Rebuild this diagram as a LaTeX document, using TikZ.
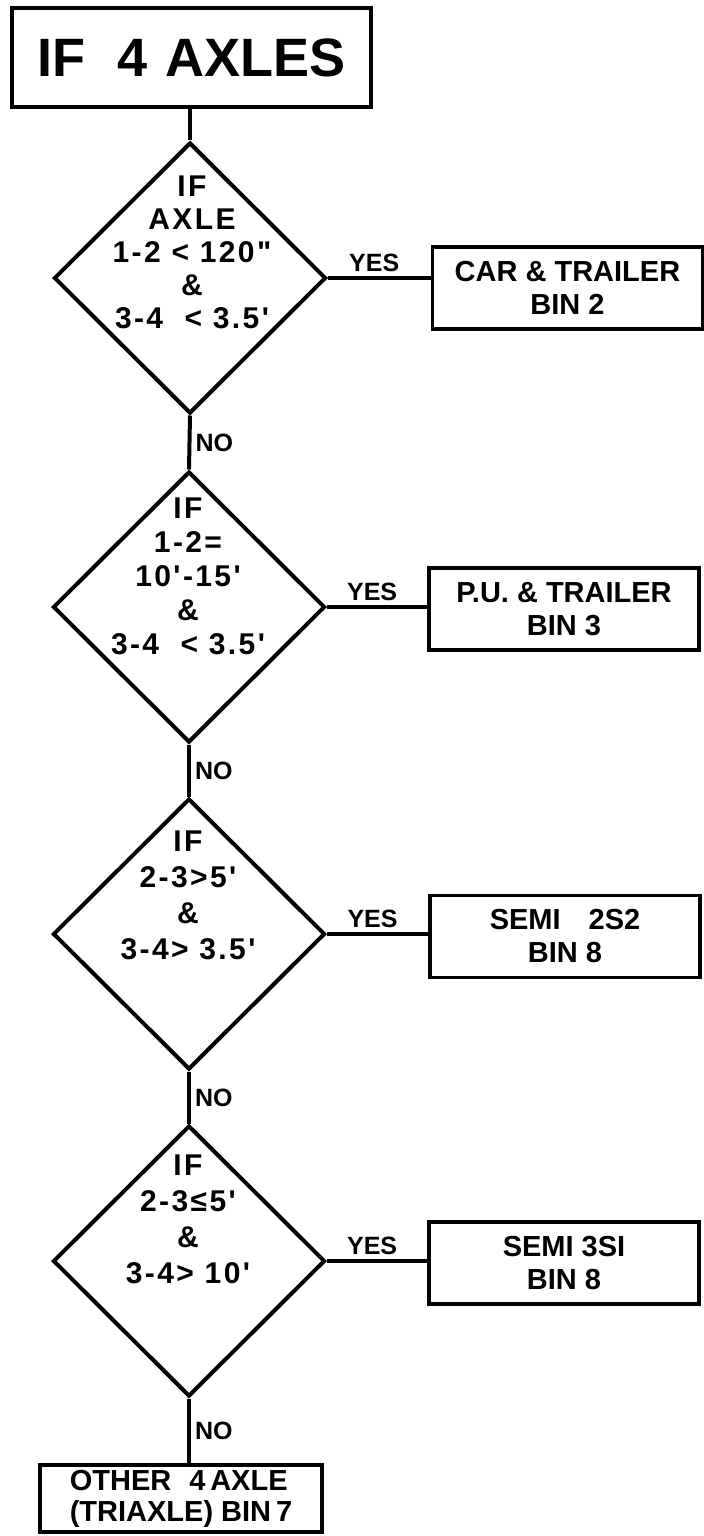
\documentclass[tikz,border=0pt]{standalone}
\usepackage{fontspec}
\setmainfont{Liberation Sans}
\newfontfamily\spaced[LetterSpace=8]{Liberation Sans}
\usetikzlibrary{shapes.geometric, calc}

\begin{document}
\begin{tikzpicture}[
  x=0.5pt, y=-0.5pt,
  line width=2pt,
  title/.style={draw, line width=1.8pt, minimum width=179.5pt, minimum height=49.5pt,
                inner sep=0pt, font=\fontsize{27}{32}\selectfont\bfseries},
  test/.style={draw, diamond, minimum width=136pt, minimum height=135.5pt, inner sep=0pt},
  cond/.style={align=center, inner sep=0pt, font=\spaced\fontsize{15}{18}\selectfont\bfseries},
  bin/.style={draw, line width=1.8pt, minimum width=135pt, minimum height=41pt,
              inner sep=0pt, align=center, font=\fontsize{14.5}{16.5}\selectfont\bfseries},
  tag/.style={font=\fontsize{12.5}{14}\selectfont\bfseries, inner sep=2pt},
]
  \useasboundingbox (0,0) rectangle (703,1536);

  % --- start ------------------------------------------------------
  \node[title] (top) at (191.5,57.5) {IF\hspace{16pt}4\hspace{9pt}AXLES};

  % --- tests ------------------------------------------------------
  \node[test] (d1) at (190,278) {};
  \node[test] (d2) at (189,607) {};
  \node[test] (d3) at (189,934) {};
  \node[test] (d4) at (189,1261) {};

  \node[cond, font=\spaced\fontsize{15}{16.5}\selectfont\bfseries] (c1) at (192,252)
    {IF\\AXLE\\1-2 < 120"\\\&\\3-4 \ < 3.5'};
  \node[cond, font=\spaced\fontsize{15}{17}\selectfont\bfseries] (c2) at (188,576)
    {IF\\1-2=\\10'-15'\\\&\\3-4 \ < 3.5'};
  \node[cond] (c3) at (188,895) {IF\\2-3>5'\\\&\\3-4> 3.5'};
  \node[cond] (c4) at (188,1219) {IF\\2-3≤5'\\\&\\3-4> 10'};

  % --- bins -------------------------------------------------------
  \node[bin] (b1) at (567.5,288) {CAR \& TRAILER\\BIN 2};
  \node[bin] (b2) at (564,609) {P.U. \& TRAILER\\BIN 3};
  \node[bin] (b3) at (565,936.5) {SEMI\hspace{14pt}2S2\\BIN 8};
  \node[bin] (b4) at (564,1263) {SEMI 3SI\\BIN 8};
  \node[bin, minimum width=141pt, minimum height=33.5pt, align=left,
        font=\fontsize{14.5}{15.5}\selectfont\bfseries] (b5) at (181,1498.5)
    {OTHER\hspace{9pt}4\,AXLE\\(TRIAXLE) BIN\,7};

  % --- connectors -------------------------------------------------
  \draw (d1.north |- top.south) -- (d1.north);
  \draw (d1.south) -- (d2.north) node[tag, midway, right] {NO};
  \draw (d2.south) -- (d3.north) node[tag, midway, right] {NO};
  \draw (d3.south) -- (d4.north) node[tag, midway, right] {NO};
  \draw (d4.south) -- (d4.south |- b5.north) node[tag, midway, right] {NO};

  \draw (d1.east) -- (d1.east -| b1.west) node[tag, pos=0.45, above] {YES};
  \draw (d2.east) -- (d2.east -| b2.west) node[tag, pos=0.45, above] {YES};
  \draw (d3.east) -- (d3.east -| b3.west) node[tag, pos=0.45, above] {YES};
  \draw (d4.east) -- (d4.east -| b4.west) node[tag, pos=0.45, above] {YES};
\end{tikzpicture}
\end{document}
